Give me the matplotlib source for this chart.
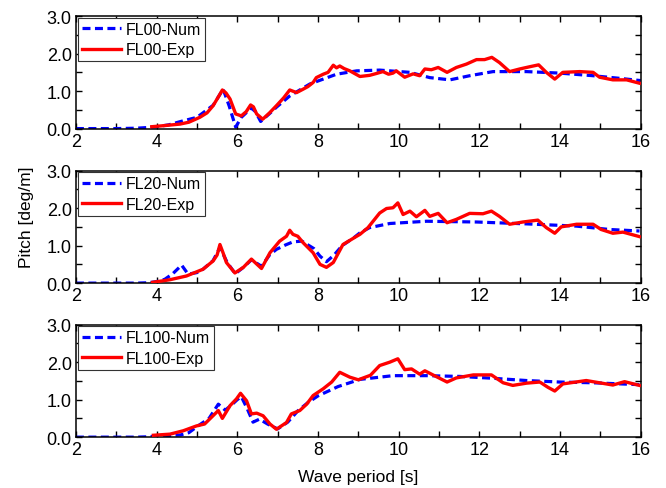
import matplotlib
matplotlib.use("Agg")
import matplotlib.pyplot as plt
from matplotlib.ticker import MultipleLocator

plt.rcParams['font.family'] = ['Liberation Sans', 'DejaVu Sans']

# FL00
fl00_num_x = [2, 3.0, 3.5, 3.8, 4.0, 4.3, 4.6, 5.0, 5.4, 5.65, 5.8, 5.96, 6.1, 6.35, 6.45, 6.58, 6.8, 6.97,
              7.3, 7.8, 8.46, 8.96, 9.53, 10.28, 10.77, 11.27, 11.76, 12.34, 13.17, 13.99, 14.82, 15.48, 16.0]
fl00_num_y = [0, 0, 0.01, 0.03, 0.05, 0.1, 0.19, 0.30, 0.62, 1.05, 0.6, 0.04, 0.3, 0.55, 0.45, 0.19, 0.4, 0.57,
              0.87, 1.19, 1.45, 1.54, 1.56, 1.50, 1.36, 1.30, 1.41, 1.52, 1.52, 1.48, 1.41, 1.34, 1.28]
fl00_exp_x = [3.88, 4.2, 4.58, 4.8, 5.07, 5.25, 5.40, 5.55, 5.63, 5.72, 5.82, 5.96, 6.10, 6.22, 6.33, 6.40,
              6.48, 6.63, 6.8, 6.97, 7.15, 7.30, 7.47, 7.63, 7.75, 7.88, 7.96, 8.13, 8.25, 8.38, 8.46, 8.54,
              8.65, 8.79, 9.04, 9.28, 9.45, 9.61, 9.75, 9.86, 9.94, 10.05, 10.15, 10.36, 10.52, 10.65, 10.81,
              10.98, 11.20, 11.43, 11.68, 11.93, 12.13, 12.31, 12.50, 12.75, 13.00, 13.25, 13.47, 13.66, 13.87,
              14.07, 14.49, 14.82, 14.98, 15.31, 15.65, 15.97]
fl00_exp_y = [0.05, 0.08, 0.12, 0.17, 0.30, 0.42, 0.61, 0.88, 1.03, 0.95, 0.79, 0.39, 0.34, 0.45, 0.63, 0.58,
              0.39, 0.25, 0.42, 0.61, 0.82, 1.03, 0.96, 1.05, 1.12, 1.23, 1.36, 1.45, 1.50, 1.69, 1.62, 1.67,
              1.60, 1.54, 1.39, 1.42, 1.47, 1.52, 1.45, 1.48, 1.54, 1.45, 1.37, 1.46, 1.41, 1.59, 1.57,
              1.63, 1.50, 1.63, 1.72, 1.84, 1.84, 1.90, 1.76, 1.52, 1.59, 1.65, 1.70, 1.50, 1.32,
              1.50, 1.52, 1.50, 1.37, 1.30, 1.30, 1.21]

# FL20
fl20_num_x = [2, 3.5, 3.8, 4.0, 4.2, 4.4, 4.62, 4.78, 5.0, 5.15, 5.4, 5.57, 5.75, 5.95, 6.15, 6.35, 6.6, 6.8,
              6.97, 7.2, 7.38, 7.6, 7.9, 8.05, 8.21, 8.4, 8.6, 8.9, 9.04, 9.28, 9.78, 10.69, 11.93, 13.17,
              14.41, 15.23, 15.97]
fl20_num_y = [0, 0, 0.01, 0.04, 0.1, 0.25, 0.48, 0.24, 0.28, 0.37, 0.6, 0.95, 0.55, 0.25, 0.42, 0.62, 0.45, 0.75,
              0.90, 1.02, 1.10, 1.12, 0.92, 0.72, 0.57, 0.75, 1.0, 1.22, 1.34, 1.48, 1.59, 1.65, 1.63, 1.58,
              1.52, 1.43, 1.39]
fl20_exp_x = [3.9, 4.33, 4.74, 5.15, 5.40, 5.5, 5.57, 5.65, 5.73, 5.94, 6.15, 6.35, 6.60, 6.81, 7.05, 7.22,
              7.30, 7.38, 7.5, 7.63, 7.88, 8.05, 8.21, 8.38, 8.62, 8.96, 9.04, 9.24, 9.53, 9.70, 9.86, 9.98,
              10.11, 10.28, 10.44, 10.65, 10.77, 10.98, 11.20, 11.43, 11.76, 12.09, 12.30, 12.50, 12.75,
              13.08, 13.45, 13.66, 13.87, 14.03, 14.41, 14.82, 15.02, 15.31, 15.56, 15.97]
fl20_exp_y = [0.02, 0.09, 0.19, 0.37, 0.59, 0.75, 1.03, 0.8, 0.55, 0.27, 0.42, 0.64, 0.39, 0.81, 1.12, 1.25,
              1.41, 1.30, 1.25, 1.08, 0.81, 0.50, 0.42, 0.55, 1.03, 1.25, 1.30, 1.48, 1.87, 1.99, 2.01, 2.14,
              1.83, 1.92, 1.77, 1.94, 1.78, 1.86, 1.61, 1.70, 1.86, 1.85, 1.92, 1.78, 1.57,
              1.63, 1.68, 1.48, 1.33, 1.50, 1.57, 1.57, 1.43, 1.33, 1.36, 1.24]

# FL100
fl100_num_x = [2, 3.5, 3.8, 4.0, 4.3, 4.6, 4.8, 5.0, 5.3, 5.53, 5.7, 5.85, 6.0, 6.1, 6.25, 6.39, 6.55, 6.75,
               7.0, 7.25, 7.5, 7.75, 8.0, 8.5, 9.04, 9.86, 10.69, 11.51, 12.34, 13.17, 13.99, 14.82, 15.97]
fl100_num_y = [0, 0, 0.01, 0.03, 0.04, 0.06, 0.12, 0.28, 0.5, 0.88, 0.72, 0.85, 1.0, 1.08, 0.75, 0.40, 0.48, 0.35,
               0.22, 0.4, 0.7, 0.92, 1.1, 1.35, 1.54, 1.64, 1.64, 1.62, 1.57, 1.51, 1.47, 1.45, 1.40]
fl100_exp_x = [3.92, 4.33, 4.66, 4.99, 5.19, 5.36, 5.53, 5.63, 5.82, 5.98, 6.08, 6.23, 6.35, 6.48, 6.64, 6.81,
               6.97, 7.22, 7.34, 7.55, 7.72, 7.88, 8.13, 8.34, 8.54, 8.79, 9.00, 9.3, 9.53, 9.78, 9.98, 10.15,
               10.32, 10.52, 10.65, 10.85, 11.20, 11.43, 11.85, 12.30, 12.59, 12.83, 13.17, 13.50, 13.70,
               13.87, 14.07, 14.65, 15.31, 15.60, 15.97]
fl100_exp_y = [0.05, 0.08, 0.17, 0.30, 0.35, 0.53, 0.71, 0.50, 0.84, 1.02, 1.17, 0.97, 0.62, 0.64, 0.57, 0.35,
               0.21, 0.39, 0.62, 0.71, 0.88, 1.11, 1.29, 1.47, 1.73, 1.60, 1.53, 1.65, 1.91, 2.00, 2.09, 1.80,
               1.82, 1.68, 1.77, 1.66, 1.47, 1.58, 1.66, 1.66, 1.45, 1.38, 1.44, 1.47, 1.33,
               1.23, 1.42, 1.51, 1.39, 1.48, 1.38]

panels = [
    ('FL00', fl00_num_x, fl00_num_y, fl00_exp_x, fl00_exp_y),
    ('FL20', fl20_num_x, fl20_num_y, fl20_exp_x, fl20_exp_y),
    ('FL100', fl100_num_x, fl100_num_y, fl100_exp_x, fl100_exp_y),
]

fig = plt.figure(figsize=(6.66, 4.89), dpi=100)
positions = [0.735, 0.419, 0.104]

for (name, nx, ny, ex, ey), bottom in zip(panels, positions):
    ax = fig.add_axes([0.114, bottom, 0.848, 0.230])
    ax.plot(nx, ny, color='#0000ff', lw=2.3, dashes=(2.5, 1.4), label=f'{name}-Num', zorder=2)
    ax.plot(ex, ey, color='#ff0000', lw=2.4, label=f'{name}-Exp', zorder=3)
    ax.set_xlim(2, 16)
    ax.set_ylim(0, 3)
    ax.xaxis.set_major_locator(MultipleLocator(2))
    ax.xaxis.set_minor_locator(MultipleLocator(1))
    ax.yaxis.set_major_locator(MultipleLocator(1))
    ax.yaxis.set_minor_locator(MultipleLocator(0.5))
    ax.yaxis.set_major_formatter(plt.FormatStrFormatter('%.1f'))
    ax.tick_params(which='both', direction='in', top=True, right=True, labelsize=13, width=1)
    ax.tick_params(which='major', length=4)
    ax.tick_params(which='minor', length=4)
    ax.tick_params(axis='x', pad=3)
    ax.tick_params(axis='y', pad=3)
    for s in ax.spines.values():
        s.set_linewidth(1.1)
    leg = ax.legend(loc='upper left', fontsize=11.5, fancybox=False, framealpha=1, edgecolor='#333333',
                    handlelength=2.5, handletextpad=0.25, borderpad=0.25, labelspacing=0.35,
                    borderaxespad=0.1)
    leg.get_frame().set_linewidth(0.8)
    if name == 'FL100':
        ax.set_xlabel('Wave period [s]', fontsize=12.5, labelpad=8)

fig.text(0.04, 0.556, 'Pitch [deg/m]', rotation=90, ha='center', va='center', fontsize=12.5)

fig.savefig('out.png', dpi=100)
